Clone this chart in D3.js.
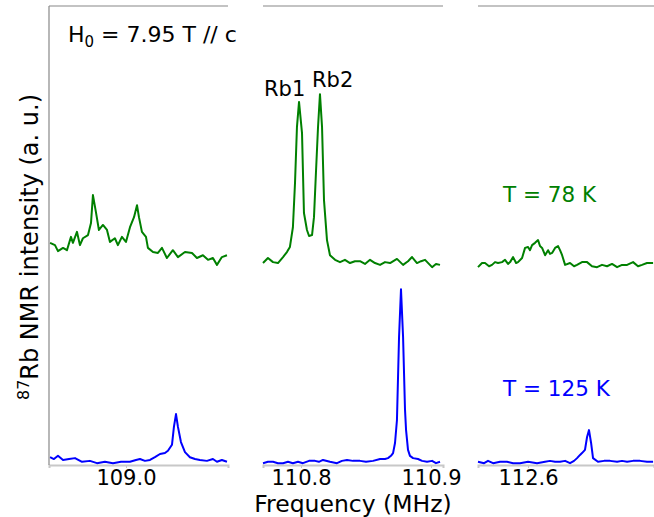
<!DOCTYPE html>
<html>
<head>
<meta charset="utf-8">
<script src="https://cdn.jsdelivr.net/npm/d3@7"></script>
<style>
  body { margin: 0; background: #fff; }
  svg { font-family: "DejaVu Sans", sans-serif; }
</style>
</head>
<body>
<svg id="chart" width="654" height="517"></svg>
<script>
// spectra, frequency in MHz, intensity in a.u.
const leftFreq78 = [108.9416,108.9454,108.9477,108.9516,108.9546,108.9577,108.9592,108.9623,108.9646,108.9669,108.9708,108.9731,108.9746,108.9769,108.9792,108.9823,108.9854,108.9877,108.9915,108.9938,108.9969,109.0000,109.0031,109.0062,109.0085,109.0100,109.0123,109.0154,109.0169,109.0208,109.0246,109.0277,109.0315,109.0361,109.0400,109.0454,109.0508,109.0546,109.0592,109.0631,109.0669,109.0700,109.0738,109.0777];
const leftVal78 = [0.044,0.039,0.026,0.033,0.028,0.057,0.044,0.068,0.039,0.054,0.061,0.087,0.148,0.111,0.072,0.083,0.072,0.046,0.054,0.039,0.057,0.046,0.078,0.100,0.126,0.100,0.068,0.057,0.033,0.024,0.022,0.033,0.011,0.028,0.013,0.024,0.022,0.011,0.017,0.007,0.011,-0.004,0.013,0.017];

const leftFreq125 = [108.9416,108.9446,108.9477,108.9516,108.9562,108.9608,108.9662,108.9723,108.9777,108.9838,108.9900,108.9962,109.0031,109.0077,109.0108,109.0146,109.0185,109.0223,109.0262,109.0300,109.0323,109.0354,109.0369,109.0385,109.0400,109.0423,109.0454,109.0492,109.0531,109.0569,109.0623,109.0669,109.0700,109.0738,109.0777];
const leftVal125 = [0.017,0.013,0.020,0.011,0.013,0.015,0.007,0.009,0.004,0.007,0.004,0.007,0.007,0.011,0.013,0.009,0.011,0.017,0.024,0.026,0.031,0.044,0.083,0.111,0.083,0.050,0.028,0.017,0.013,0.011,0.009,0.013,0.007,0.011,0.007];

const midFreq78 = [110.7708,110.7746,110.7785,110.7823,110.7862,110.7892,110.7915,110.7938,110.7954,110.7969,110.7985,110.8008,110.8023,110.8046,110.8062,110.8085,110.8100,110.8115,110.8131,110.8146,110.8162,110.8177,110.8200,110.8223,110.8262,110.8300,110.8338,110.8377,110.8415,110.8454,110.8492,110.8531,110.8569,110.8608,110.8646,110.8685,110.8738,110.8785,110.8823,110.8854,110.8892,110.8923,110.8954,110.9008,110.9038,110.9069];
const midVal78 = [0.000,0.011,0.002,0.000,0.013,0.024,0.035,0.078,0.174,0.296,0.351,0.283,0.109,0.072,0.059,0.061,0.100,0.196,0.296,0.368,0.296,0.137,0.050,0.017,0.007,0.002,0.007,0.000,0.004,0.004,-0.002,0.007,0.000,-0.004,0.002,0.000,0.009,-0.004,0.004,0.013,0.000,0.004,0.007,-0.009,-0.002,-0.004];

const midFreq125 = [110.7708,110.7746,110.7785,110.7823,110.7862,110.7900,110.7938,110.7977,110.8015,110.8062,110.8108,110.8138,110.8169,110.8223,110.8277,110.8315,110.8354,110.8400,110.8454,110.8500,110.8554,110.8608,110.8646,110.8669,110.8692,110.8708,110.8723,110.8738,110.8754,110.8769,110.8785,110.8800,110.8808,110.8823,110.8838,110.8862,110.8900,110.8931,110.8969,110.9008,110.9038,110.9069];
const midVal125 = [0.004,0.007,0.007,0.004,0.004,0.007,0.004,0.007,0.004,0.009,0.009,0.007,0.011,0.007,0.004,0.009,0.011,0.009,0.009,0.007,0.009,0.013,0.013,0.015,0.020,0.026,0.048,0.098,0.279,0.383,0.279,0.120,0.076,0.033,0.020,0.015,0.013,0.009,0.007,0.009,0.004,0.007];

const rightFreq78 = [112.5615,112.5646,112.5669,112.5700,112.5723,112.5746,112.5769,112.5800,112.5823,112.5846,112.5862,112.5885,112.5908,112.5923,112.5954,112.5977,112.6000,112.6015,112.6031,112.6054,112.6077,112.6092,112.6108,112.6131,112.6154,112.6169,112.6185,112.6208,112.6231,112.6246,112.6262,112.6285,112.6323,112.6354,112.6377,112.6415,112.6454,112.6492,112.6531,112.6569,112.6608,112.6646,112.6685,112.6723,112.6762,112.6808,112.6846,112.6877,112.6915,112.6962];
const rightVal78 = [-0.009,0.000,0.000,-0.007,-0.004,0.002,0.000,0.002,0.007,-0.002,0.002,0.013,0.000,0.002,0.011,0.033,0.035,0.028,0.039,0.044,0.050,0.037,0.033,0.017,0.028,0.020,0.022,0.033,0.037,0.028,0.017,-0.004,0.000,-0.007,-0.004,0.002,0.002,-0.007,-0.009,-0.004,-0.007,-0.002,-0.009,-0.004,-0.004,0.002,-0.007,-0.004,0.000,0.000];

const rightFreq125 = [112.5615,112.5662,112.5692,112.5731,112.5785,112.5838,112.5885,112.5938,112.6000,112.6069,112.6131,112.6169,112.6208,112.6246,112.6285,112.6323,112.6354,112.6377,112.6400,112.6415,112.6438,112.6454,112.6469,112.6485,112.6500,112.6538,112.6585,112.6631,112.6685,112.6723,112.6762,112.6808,112.6862,112.6915,112.6962];
const rightVal125 = [0.007,0.004,0.009,0.004,0.007,0.007,0.004,0.004,0.007,0.004,0.007,0.009,0.007,0.007,0.009,0.004,0.009,0.015,0.022,0.026,0.033,0.061,0.076,0.048,0.015,0.007,0.009,0.009,0.007,0.009,0.007,0.009,0.009,0.007,0.007];

// the 78 K trace is stacked above the 125 K one
const offset78 = 0.44;

const panels = [
    {domain: [108.9408, 109.0785], ticks: [109.0], tickLabels: ["109.0"],
     f78: leftFreq78, v78: leftVal78, f125: leftFreq125, v125: leftVal125},
    {domain: [110.7708, 110.9092], ticks: [110.8, 110.9], tickLabels: ["110.8", "110.9"],
     f78: midFreq78, v78: midVal78, f125: midFreq125, v125: midVal125},
    {domain: [112.5615, 112.6969], ticks: [112.6], tickLabels: ["112.6"],
     f78: rightFreq78, v78: rightVal78, f125: rightFreq125, v125: rightVal125}
];
const panelX = [[49, 228], [263, 443], [478, 654]];

const svg = d3.select("#chart");
const plotTop = 6, plotBottom = 465;
const y = d3.scaleLinear().domain([0, 1]).range([plotBottom, plotTop]);

panels.forEach((p, i) => {
    const x = d3.scaleLinear().domain(p.domain).range(panelX[i]);
    const g = svg.append("g");

    const axis = d3.axisBottom(x)
        .tickValues(p.ticks)
        .tickFormat((d, k) => p.tickLabels[k])
        .tickSize(3)
        .tickPadding(2);
    const ax = g.append("g")
        .attr("transform", `translate(0,${plotBottom})`)
        .call(axis);
    ax.select(".domain").attr("stroke", "#c8c8c8").attr("stroke-width", 2);
    ax.selectAll(".tick line").attr("stroke", "#c8c8c8");
    ax.selectAll(".tick text")
        .attr("fill", "#000")
        .style("font-size", "21px")
        .style("font-family", "DejaVu Sans");

    // top spine
    g.append("line")
        .attr("x1", panelX[i][0]).attr("x2", panelX[i][1])
        .attr("y1", plotTop).attr("y2", plotTop)
        .attr("stroke", "#888").attr("stroke-width", 1.2);

    const line125 = d3.line()
        .x((d, k) => x(p.f125[k]))
        .y(d => y(d));
    const line78 = d3.line()
        .x((d, k) => x(p.f78[k]))
        .y(d => y(d + offset78));

    g.append("path")
        .attr("d", line78(p.v78))
        .attr("fill", "none")
        .attr("stroke", "#008000")
        .attr("stroke-width", 2)
        .attr("stroke-linejoin", "round");
    g.append("path")
        .attr("d", line125(p.v125))
        .attr("fill", "none")
        .attr("stroke", "#0000ff")
        .attr("stroke-width", 2)
        .attr("stroke-linejoin", "round");
});

// left spine
svg.append("line")
    .attr("x1", 49).attr("x2", 49)
    .attr("y1", plotTop).attr("y2", plotBottom)
    .attr("stroke", "#888").attr("stroke-width", 1.2);

// annotations
const h0 = svg.append("text")
    .attr("x", 68).attr("y", 42)
    .style("font-size", "22px");
h0.append("tspan").text("H");
h0.append("tspan").attr("dy", 5).style("font-size", "15px").text("0");
h0.append("tspan").attr("dy", -5).text(" = 7.95 T // c");

svg.append("text").attr("x", 264).attr("y", 96)
    .style("font-size", "21px").text("Rb1");
svg.append("text").attr("x", 312).attr("y", 87)
    .style("font-size", "21px").text("Rb2");

svg.append("text").attr("x", 503).attr("y", 202)
    .attr("fill", "#008000")
    .style("font-size", "21.5px").text("T = 78 K");
svg.append("text").attr("x", 503).attr("y", 396)
    .attr("fill", "#0000ff")
    .style("font-size", "21.5px").text("T = 125 K");

svg.append("text")
    .attr("x", 353).attr("y", 512)
    .attr("text-anchor", "middle")
    .style("font-size", "23.5px")
    .text("Frequency (MHz)");

const ylab = svg.append("text")
    .attr("transform", "translate(38,247) rotate(-90)")
    .attr("text-anchor", "middle")
    .style("font-size", "24px");
ylab.append("tspan").attr("dy", -9).style("font-size", "16px").text("87");
ylab.append("tspan").attr("dy", 9).text("Rb NMR intensity (a. u.)");
</script>
</body>
</html>
